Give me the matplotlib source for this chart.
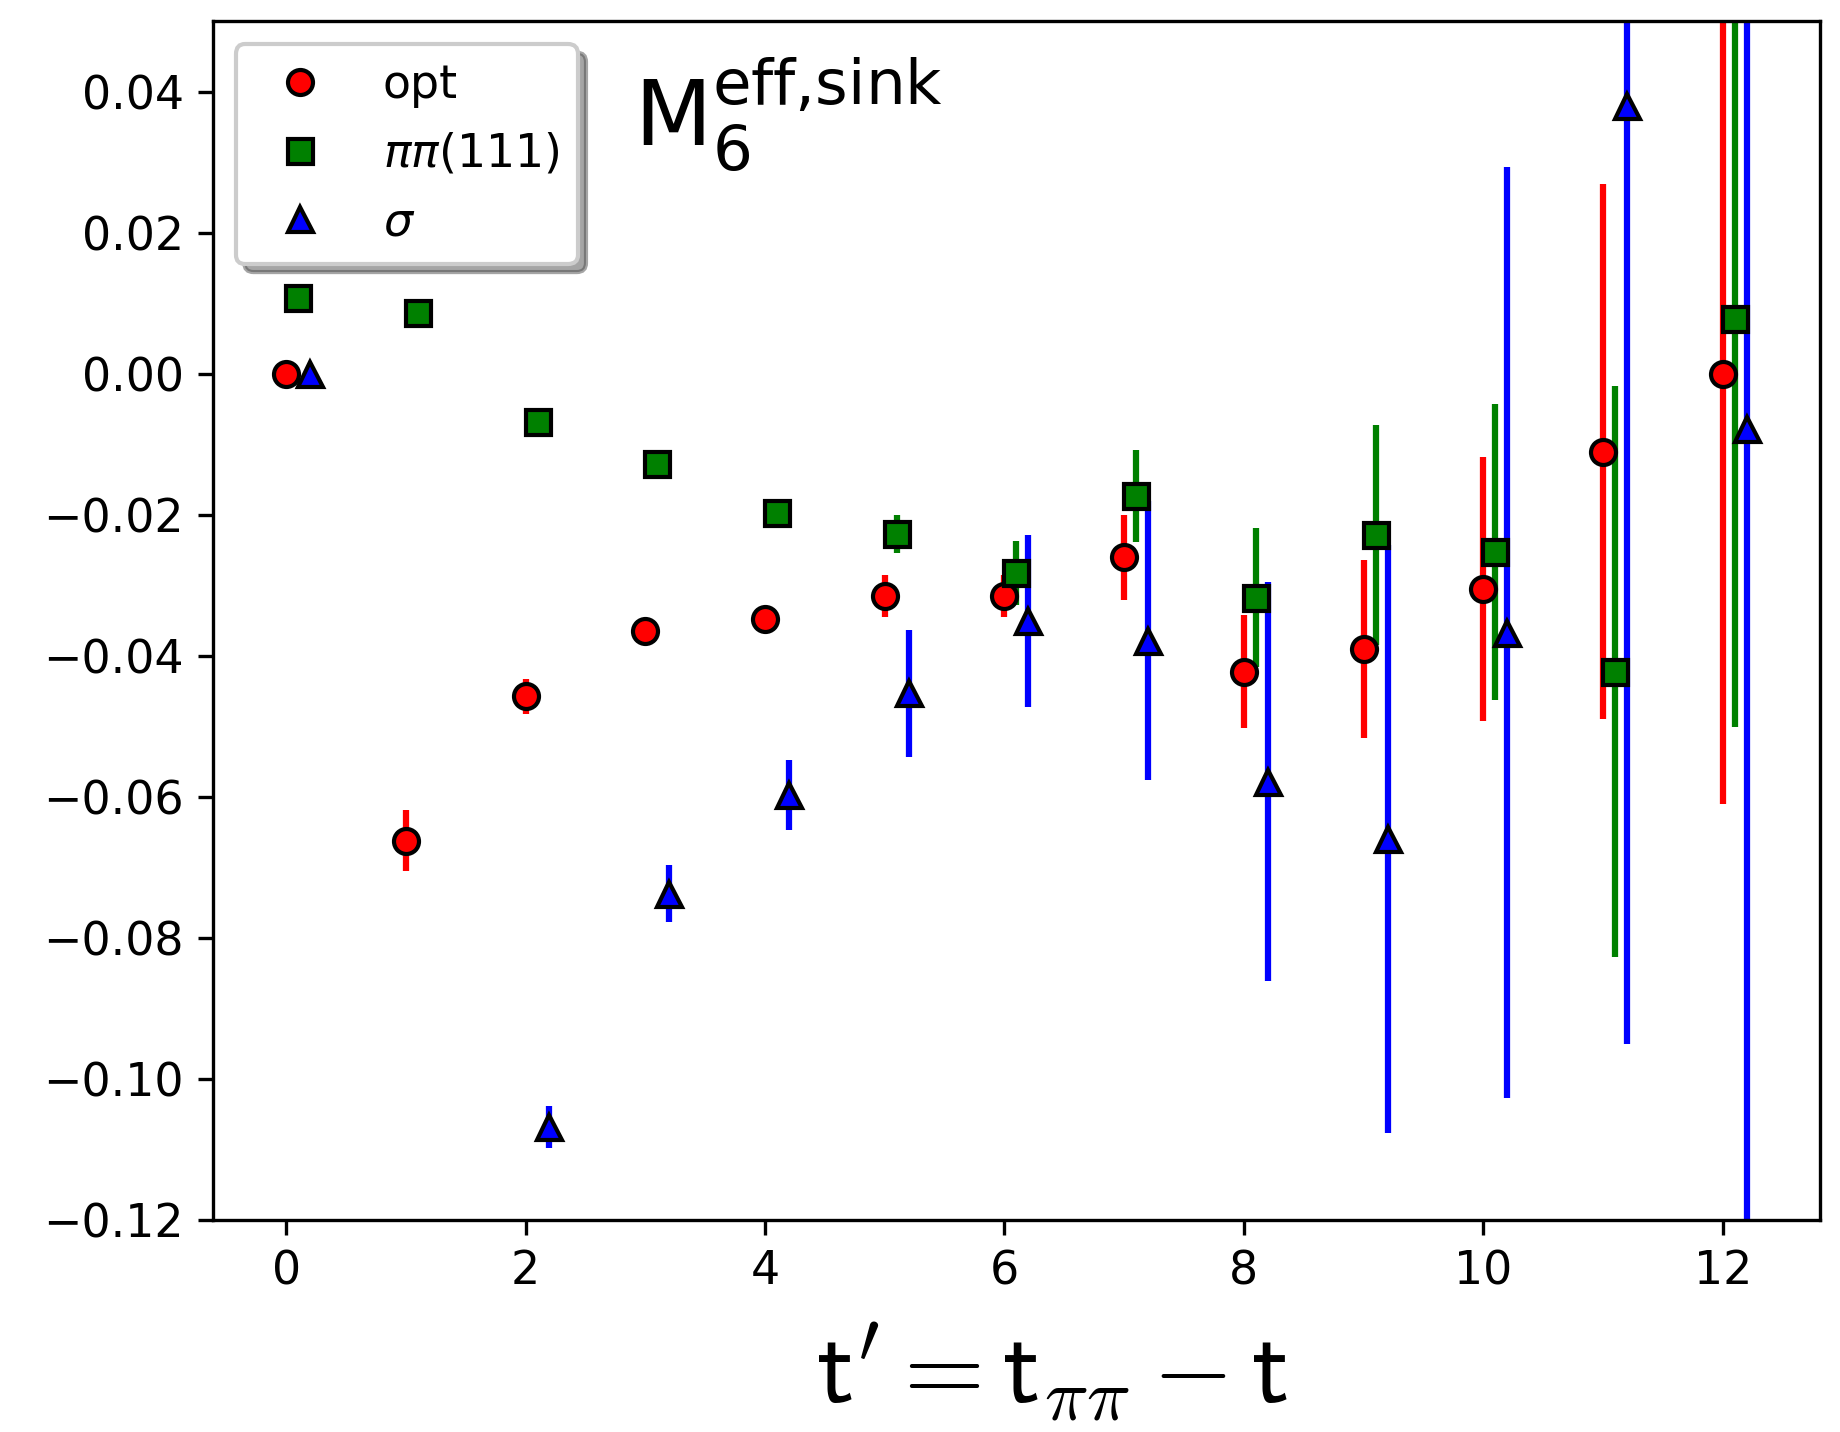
"""plot.py
Effective sink matrix element M6 vs t' for three operators.
"""
import matplotlib
matplotlib.use("Agg")
import matplotlib.pyplot as plt
import numpy as np

# time slices
t = np.arange(13)

# opt (red circles)
opt_val = [0.0, -0.0662, -0.0457, -0.0365, -0.0348, -0.0315, -0.0315,
           -0.0260, -0.0422, -0.0390, -0.0305, -0.0110, 0.0000]
opt_err = [0.0003, 0.0043, 0.0025, 0.0010, 0.0010, 0.0030, 0.0030,
           0.0060, 0.0080, 0.0126, 0.0187, 0.0380, 0.0610]

# pipi(111) (green squares)
pp_val = [0.0108, 0.0087, -0.0068, -0.0128, -0.0197, -0.0227, -0.0282,
          -0.0173, -0.0317, -0.0228, -0.0253, -0.0422, 0.0078]
pp_err = [0.0003, 0.0004, 0.0006, 0.0008, 0.0020, 0.0027, 0.0045,
          0.0065, 0.0098, 0.0156, 0.0210, 0.0405, 0.0578]

# sigma (blue triangles), nothing at t=1
sig_val = [0.0, np.nan, -0.1068, -0.0737, -0.0597, -0.0453, -0.0350,
           -0.0378, -0.0578, -0.0660, -0.0367, 0.0380, -0.0078]
sig_err = [0.0003, np.nan, 0.0030, 0.0040, 0.0050, 0.0090, 0.0122,
           0.0198, 0.0283, 0.0417, 0.0660, 0.1330, 0.1500]

series = [
    (0.0, opt_val, opt_err, "red", "o", "opt"),
    (0.1, pp_val, pp_err, "green", "s", r"$\pi\pi(111)$"),
    (0.2, sig_val, sig_err, "blue", "^", r"$\sigma$"),
]

fig = plt.figure(figsize=(1840 / 300, 1432 / 300), dpi=300)
ax = fig.add_axes([0.1158, 0.148, 0.989 - 0.1158, 0.985 - 0.148])

for off, val, err, col, mk, lab in series:
    x = t + off
    ax.errorbar(x, val, yerr=err, fmt="none", ecolor=col, elinewidth=1.5,
                capsize=0, zorder=2)
    ax.plot(x, val, linestyle="none", marker=mk, markersize=6,
            markerfacecolor=col, markeredgecolor="black",
            markeredgewidth=1.0, label=lab, zorder=3)

ax.set_ylim(-0.12, 0.05)
ax.set_yticks(np.arange(-0.12, 0.041, 0.02))
ax.tick_params(labelsize=11)

ax.set_xlabel(r"$\mathsf{t}' = \mathsf{t}_{\pi\pi} - \mathsf{t}$",
              fontsize=25, math_fontfamily="cm")
ax.xaxis.set_label_coords(0.522, -0.085)
ax.text(0.262, 0.972, r"$\mathrm{M}_6^{\mathrm{eff{,}sink}}$", fontsize=21.5,
        transform=ax.transAxes, va="top", ha="left")

ax.legend(loc="upper left", fontsize=11, labelspacing=0.52, shadow=True,
          fancybox=True, numpoints=1, framealpha=1.0)

fig.savefig("out.png", dpi=300)
